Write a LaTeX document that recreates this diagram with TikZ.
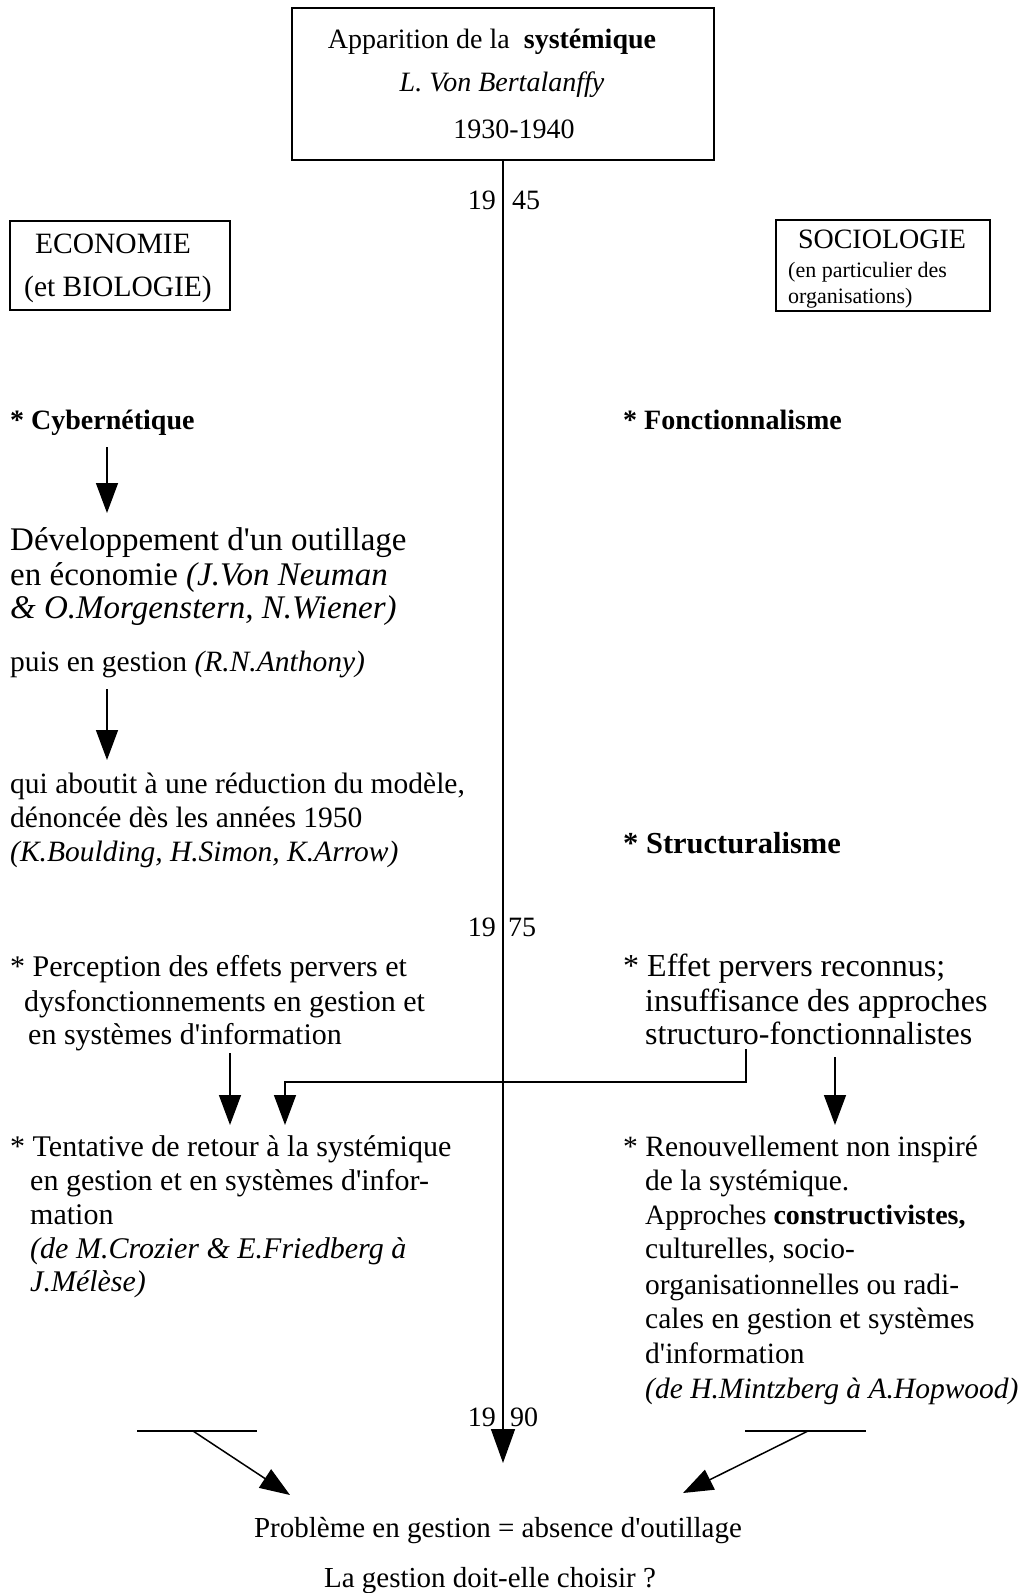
\documentclass[tikz,border=0pt]{standalone}
\usepackage{fontspec}
\setmainfont{Liberation Serif}
\usetikzlibrary{arrows.meta}
\newcommand\apos{\textquotesingle}
\newcommand\fsz[1]{\fontsize{#1}{#1}\selectfont}
\begin{document}
\begin{tikzpicture}[x=1pt,y=-1pt,
  txt/.style={inner sep=0pt, anchor=base west, font=\fsz{29.5}},
  tit/.style={txt, font=\fsz{28}},
  bigtxt/.style={txt, font=\fsz{33}},
  widetxt/.style={txt, font=\fsz{32}},
  smalltxt/.style={txt, font=\fsz{22}},
  frame/.style={draw, line width=1.6pt, inner sep=0pt},
  link/.style={line width=1.5pt},
  arr/.style={link, -{Triangle[length=30pt,width=22pt]}},
  bigarr/.style={link, -{Triangle[length=34pt,width=24pt]}},
]
\useasboundingbox (0,0) rectangle (1026,1593);

% Origin box
\node[frame, minimum width=422pt, minimum height=152pt] (origin) at (503,84) {};
\node[tit, anchor=base] (t1) at (492,48) {Apparition de la\ \ \textbf{systémique}};
\node[tit, anchor=base] (t2) at (502,91) {\textit{L. Von Bertalanffy}};
\node[tit, anchor=base] (t3) at (514,138) {1930-1940};

% Time axis
\coordinate (axisend) at (503,1463);
\draw[bigarr] (origin.south) -- (axisend);
\node[tit, anchor=base east] (y19a) at (496,209) {19};
\node[tit] (y45) at (512,209) {45};
\node[tit, anchor=base east] (y19b) at (496,936) {19};
\node[tit] (y75) at (508,936) {75};
\node[tit, anchor=base east] (y19c) at (496,1426) {19};
\node[tit] (y90) at (510,1426) {90};

% Discipline boxes
\node[frame, minimum width=220pt, minimum height=89pt] (eco) at (120,265.5) {};
\node[txt, anchor=base] (eco1) at (113,253) {ECONOMIE};
\node[txt, anchor=base] (eco2) at (118,296) {(et BIOLOGIE)};
\node[frame, minimum width=214pt, minimum height=91pt] (soc) at (883,265.5) {};
\node[tit, anchor=base] (soc1) at (882,248) {SOCIOLOGIE};
\node[smalltxt] (soc2) at (788,277) {(en particulier des};
\node[smalltxt] (soc3) at (788,303) {organisations)};

% Left column
\node[tit] (cyb) at (10,429) {\textbf{* Cybernétique}};
\coordinate (a1s) at (107,447);
\coordinate (a1e) at (107,513);
\draw[arr] (a1s) -- (a1e);
\node[bigtxt] (dev1) at (10,550) {Développement d\apos un outillage};
\node[bigtxt] (dev2) at (10,585) {en économie \textit{(J.Von Neuman}};
\node[bigtxt] (dev3) at (10,618) {\textit{\& O.Morgenstern, N.Wiener)}};
\node[txt] (dev4) at (10,671) {puis en gestion \textit{(R.N.Anthony)}};
\coordinate (a2s) at (107,689);
\coordinate (a2e) at (107,760);
\draw[arr] (a2s) -- (a2e);
\node[txt] (red1) at (10,793) {qui aboutit à une réduction du modèle,};
\node[txt] (red2) at (10,827) {dénoncée dès les années 1950};
\node[txt] (red3) at (10,861) {\textit{(K.Boulding, H.Simon, K.Arrow)}};

\node[txt, font=\fsz{30}] (per1) at (10,976) {* Perception des effets pervers et};
\node[txt, font=\fsz{30}] (per2) at (24,1011) {dysfonctionnements en gestion et};
\node[txt, font=\fsz{30}] (per3) at (28,1044) {en systèmes d\apos information};

\node[txt, font=\fsz{30}] (ten1) at (10,1156) {* Tentative de retour à la systémique};
\node[txt, font=\fsz{30}] (ten2) at (30,1190) {en gestion et en systèmes d\apos infor-};
\node[txt, font=\fsz{30}] (ten3) at (30,1224) {mation};
\node[txt, font=\fsz{30}] (ten4) at (30,1258) {\textit{(de M.Crozier \& E.Friedberg à}};
\node[txt, font=\fsz{30}] (ten5) at (30,1291) {\textit{J.Mélèse)}};

% Right column
\node[tit] (fon) at (623,429) {\textbf{* Fonctionnalisme}};
\node[txt, font=\fsz{30.5}] (str) at (623,853) {\textbf{* Structuralisme}};
\node[widetxt] (eff1) at (623,976) {* Effet pervers reconnus;};
\node[widetxt] (eff2) at (645,1011) {insuffisance des approches};
\node[widetxt] (eff3) at (645,1044) {structuro-fonctionnalistes};

\node[txt] (ren1) at (623,1156) {* Renouvellement non inspiré};
\node[txt] (ren2) at (645,1190) {de la systémique.};
\node[tit] (ren3) at (645,1224) {Approches \textbf{constructivistes,}};
\node[txt] (ren4) at (645,1258) {culturelles, socio-};
\node[txt] (ren5) at (645,1294) {organisationnelles ou radi-};
\node[txt] (ren6) at (645,1328) {cales en gestion et systèmes};
\node[txt] (ren7) at (645,1363) {d\apos information};
\node[txt] (ren8) at (645,1398) {\textit{(de H.Mintzberg à A.Hopwood)}};

% Links towards the 1975 statements
\coordinate (a3s) at (230,1053);
\coordinate (a3e) at (230,1125);
\draw[arr] (a3s) -- (a3e);
\coordinate (a4s) at (746,1049);
\coordinate (a4e) at (285,1125);
\draw[arr] (a4s) -- (746,1082) -- (285,1082) -- (a4e);
\coordinate (a5s) at (835,1057);
\coordinate (a5e) at (835,1125);
\draw[arr] (a5s) -- (a5e);

% Convergence towards the conclusion
\coordinate (bl1) at (137,1431);
\coordinate (bl2) at (257,1431);
\coordinate (blm) at (193,1431);
\coordinate (blt) at (290,1495);
\draw[line width=2pt] (bl1) -- (bl2);
\draw[arr] (blm) -- (blt);
\coordinate (br1) at (745,1431);
\coordinate (br2) at (866,1431);
\coordinate (brm) at (808,1431);
\coordinate (brt) at (683,1493);
\draw[line width=2pt] (br1) -- (br2);
\draw[arr] (brm) -- (brt);

\node[txt, font=\fsz{29}, anchor=base] (con1) at (498,1537) {Problème en gestion = absence d\apos outillage};
\node[txt, font=\fsz{29}, anchor=base] (con2) at (490,1587) {La gestion doit-elle choisir ?};
\end{tikzpicture}
\end{document}
